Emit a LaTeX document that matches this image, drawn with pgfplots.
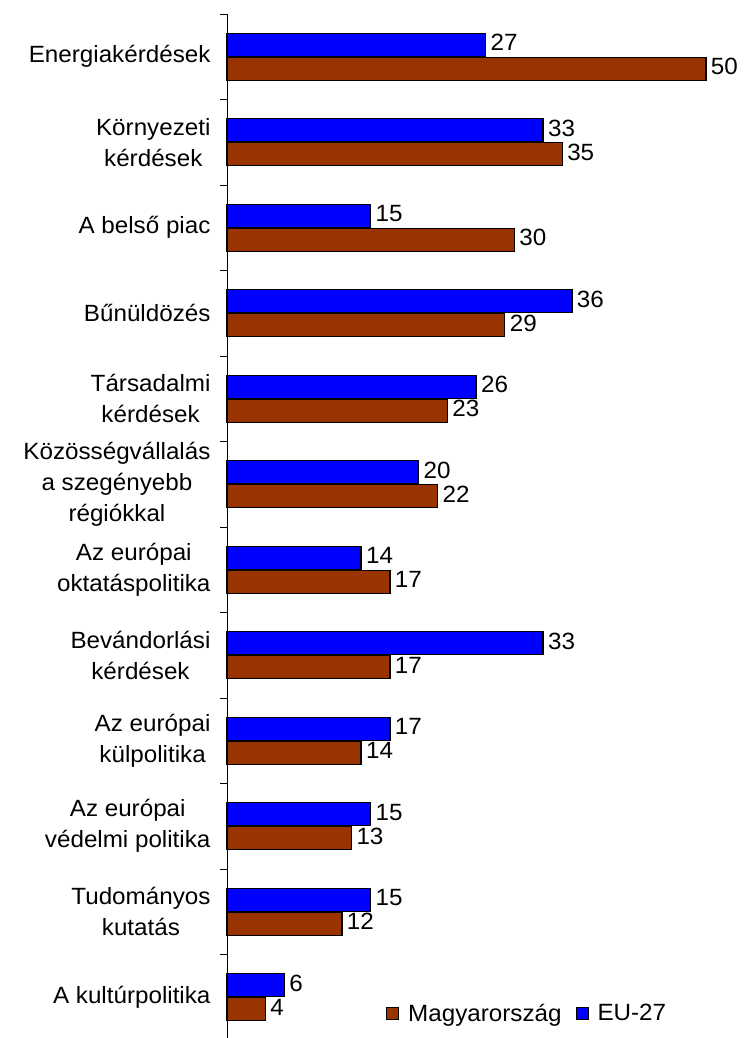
\documentclass[border=0pt]{standalone}
\usepackage{pgfplots}
\pgfplotsset{compat=1.18}
\usepackage{fontspec}
\setmainfont{Liberation Sans}[FakeStretch=1.03]
\definecolor{hubrown}{HTML}{993300}
\definecolor{eublue}{HTML}{0000FF}
\begin{document}
\begin{tikzpicture}
\useasboundingbox (-227pt,2pt) rectangle (520pt,1040pt);
\begin{axis}[
  at={(0pt,0pt)}, anchor=south west,
  scale only axis, width=520pt, height=1026pt,
  xmin=0, xmax=54.28, ymin=-0.5, ymax=11.5,
  xbar, bar width=23pt,
  /pgf/number format/assume math mode=true,
  axis x line=none, axis y line*=left,
  axis line style={black, line width=0.8pt},
  xtick=\empty,
  ytick={0,...,11},
  yticklabels={A kultúrpolitika, Tudományos\\kutatás, Az európai\\védelmi politika, Az európai\\külpolitika, Bevándorlási\\kérdések, Az európai\\oktatáspolitika, Közösségvállalás\\a szegényebb\\régiókkal, Társadalmi\\kérdések, Bűnüldözés, A belső piac, Környezeti\\kérdések, Energiakérdések},
  yticklabel style={align=center, font=\fontsize{23.5}{31}\selectfont, xshift=-13pt},
  major tick length=0pt,
  minor ytick={-0.5,0.5,...,11.5},
  minor tick length=7pt, tick align=outside,
  minor tick style={black, line width=0.8pt},
  clip=false,
  nodes near coords,
  nodes near coords style={font=\fontsize{23.5}{28}\selectfont, anchor=west, xshift=1pt, yshift=2pt, text=black},
  legend style={at={(0.30,0.026)}, anchor=west, draw=none, fill=none, font=\fontsize{23.5}{28}\selectfont, legend columns=2, column sep=7pt, /tikz/every even column/.append style={column sep=12pt}},
  legend image code/.code={\draw[#1, line width=1pt] (0pt,-6pt) rectangle (12pt,6pt);},
]
\addplot[fill=hubrown, draw=black, line width=1.3pt, bar shift=-12pt] coordinates {
  (4,0) (12,1) (13,2) (14,3) (17,4) (17,5) (22,6) (23,7) (29,8) (30,9) (35,10) (50,11)};
\addlegendentry{Magyarország}
\addplot[fill=eublue, draw=black, line width=1.3pt, bar shift=12pt] coordinates {
  (6,0) (15,1) (15,2) (17,3) (33,4) (14,5) (20,6) (26,7) (36,8) (15,9) (33,10) (27,11)};
\addlegendentry{EU-27}
\end{axis}
\end{tikzpicture}
\end{document}
